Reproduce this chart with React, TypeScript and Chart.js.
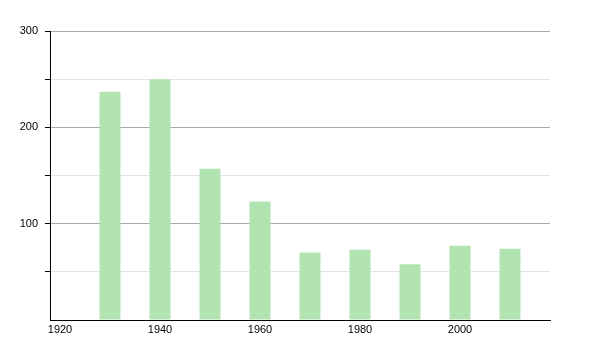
import React, { useEffect, useRef } from "react";
import { Chart, registerables } from "chart.js";

Chart.register(...registerables);

const years = [1930, 1940, 1950, 1960, 1970, 1980, 1990, 2000, 2010];
const population = [237, 250, 157, 123, 70, 73, 58, 77, 74];
const xTickValues = [1920, 1940, 1960, 1980, 2000];

export default function App() {
  const ref = useRef<HTMLCanvasElement | null>(null);

  useEffect(() => {
    if (!ref.current) return;
    const chart = new Chart(ref.current, {
      type: "bar",
      data: {
        datasets: [
          {
            data: years.map((y, i) => ({ x: y, y: population[i] })),
            backgroundColor: "rgb(178, 228, 178)",
            borderWidth: 0,
            barPercentage: 0.42,
            categoryPercentage: 1,
          },
        ],
      },
      options: {
        responsive: false,
        animation: false,
        layout: { padding: { top: 31, right: 50, left: 0, bottom: 0 } },
        plugins: { legend: { display: false }, tooltip: { enabled: false } },
        scales: {
          x: {
            type: "linear",
            offset: false,
            min: 1918,
            max: 2018,
            afterBuildTicks: (axis: any) => {
              axis.ticks = xTickValues.map((v) => ({ value: v }));
            },
            afterFit: (axis: any) => {
              axis.height = 30;
            },
            grid: { display: false, drawTicks: false },
            border: { display: true, color: "#000", width: 1 },
            ticks: {
              color: "#000",
              padding: 3,
              font: { family: "'Liberation Sans', Arial, sans-serif", size: 11 },
              callback: (v: any) => String(v),
            },
          },
          y: {
            min: 0,
            max: 300,
            afterFit: (axis: any) => {
              axis.width = 50;
            },
            border: { display: true, color: "#000", width: 1 },
            grid: {
              color: (ctx: any) =>
                ctx.tick && ctx.tick.value % 100 === 0 ? "#aaaaaa" : "#e4e4e4",
              tickColor: (ctx: any) =>
                ctx.tick && ctx.tick.value === 0 ? "rgba(0,0,0,0)" : "#000",
              tickLength: 5,
            },
            ticks: {
              stepSize: 50,
              color: "#000",
              padding: 7,
              font: { family: "'Liberation Sans', Arial, sans-serif", size: 11 },
              callback: (v: any) => (Number(v) % 100 === 0 && Number(v) !== 0 ? String(v) : ""),
            },
          },
        },
      },
    });
    return () => chart.destroy();
  }, []);

  return (
    <div style={{ position: "fixed", left: 0, top: 0, width: 600, height: 350, background: "#fff" }}>
      <canvas ref={ref} width={600} height={350} />
    </div>
  );
}
